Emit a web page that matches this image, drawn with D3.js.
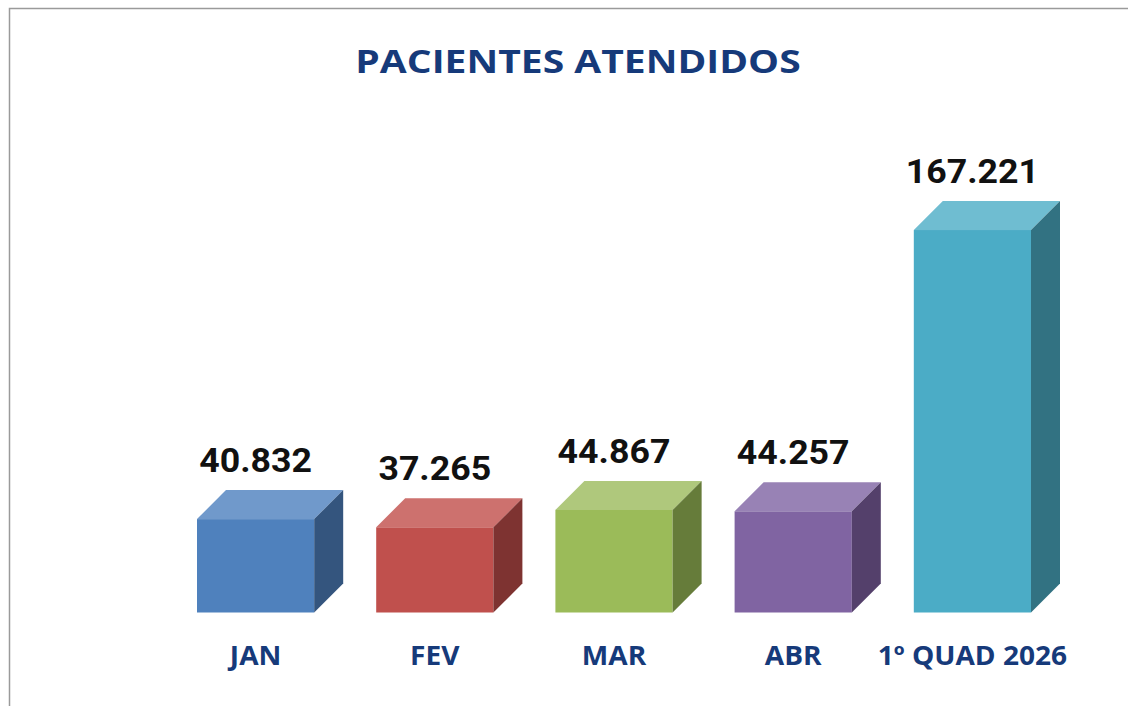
<!DOCTYPE html>
<html>
<head>
<meta charset="utf-8">
<script src="https://cdn.jsdelivr.net/npm/d3@7"></script>
<style>
  body { margin: 0; background: #fff; }
  svg { display: block; }
</style>
</head>
<body>
<div id="canvas"></div>
<script>
// Data
const categories = ["JAN", "FEV", "MAR", "ABR", "1º QUAD 2026"];
const values = [40832, 37265, 44867, 44257, 167221];
const frontColors = ["#4F81BD", "#C0504D", "#9BBB59", "#8064A2", "#4BACC6"];
const topColors = ["#7099CB", "#CD716E", "#AFC87C", "#9882B5", "#6FBDD1"];
const sideColors = ["#34557E", "#7E3331", "#667C3A", "#54406B", "#327282"];
const title = "PACIENTES ATENDIDOS";

const dims = { width: 1128, height: 706 };
const base = 612.5;
const depth = 29;

const fmt = d3.formatLocale({ decimal: ",", thousands: ".", grouping: [3], currency: ["", ""] }).format(",d");

const svg = d3
  .select("#canvas")
  .append("svg")
  .attr("width", dims.width)
  .attr("height", dims.height);

// chart frame (right/bottom edges fall outside the picture)
svg
  .append("rect")
  .attr("x", 9.5)
  .attr("y", 8.5)
  .attr("width", 1200)
  .attr("height", 800)
  .attr("fill", "#fff")
  .attr("stroke", "#9a9a9a")
  .attr("stroke-width", 1.5);

// Title (text is a bit wider than the font, stretch horizontally)
svg
  .append("text")
  .attr("transform", "translate(578,73) scale(1.22,1)")
  .attr("text-anchor", "middle")
  .attr("font-family", "'Open Sans', sans-serif")
  .attr("font-weight", 700)
  .attr("font-size", 32)
  .attr("fill", "#163A7A")
  .text(title);

// Scales
const xScale = d3
  .scaleBand()
  .domain(categories)
  .range([197, 1031])
  .paddingInner(0.346)
  .paddingOuter(0);

const yScale = d3.scaleLinear().domain([0, 180000]).range([base, 200.8]);

const bw = xScale.bandwidth();
const data = categories.map((c, i) => ({ cat: c, value: values[i], i: i }));

const bars = svg
  .selectAll("g.bar")
  .data(data)
  .enter()
  .append("g")
  .attr("class", "bar");

// front face
bars
  .append("rect")
  .attr("x", d => xScale(d.cat))
  .attr("y", d => yScale(d.value))
  .attr("width", bw)
  .attr("height", d => base - yScale(d.value))
  .attr("fill", d => frontColors[d.i]);

// top face
bars
  .append("path")
  .attr("d", d => {
    const x = xScale(d.cat), yt = yScale(d.value);
    return `M${x},${yt}L${x + depth},${yt - depth}L${x + bw + depth},${yt - depth}L${x + bw},${yt}Z`;
  })
  .attr("fill", d => topColors[d.i]);

// side face
bars
  .append("path")
  .attr("d", d => {
    const x = xScale(d.cat) + bw, yt = yScale(d.value);
    return `M${x},${yt}L${x + depth},${yt - depth}L${x + depth},${base - depth}L${x},${base}Z`;
  })
  .attr("fill", d => sideColors[d.i]);

// value labels
bars
  .append("text")
  .attr("transform", d => `translate(${xScale(d.cat) + bw / 2},${yScale(d.value) - depth - 18}) scale(1.05,1)`)
  .attr("text-anchor", "middle")
  .attr("font-family", "Roboto, sans-serif")
  .attr("font-weight", 700)
  .attr("font-size", 34)
  .attr("fill", "#111")
  .text(d => fmt(d.value));

// category labels
bars
  .append("text")
  .attr("transform", d => `translate(${xScale(d.cat) + bw / 2},664.5) scale(1.08,1)`)
  .attr("text-anchor", "middle")
  .attr("font-family", "'Open Sans', sans-serif")
  .attr("font-weight", 700)
  .attr("font-size", 26)
  .attr("fill", "#163A7A")
  .text(d => d.cat);
</script>
</body>
</html>
